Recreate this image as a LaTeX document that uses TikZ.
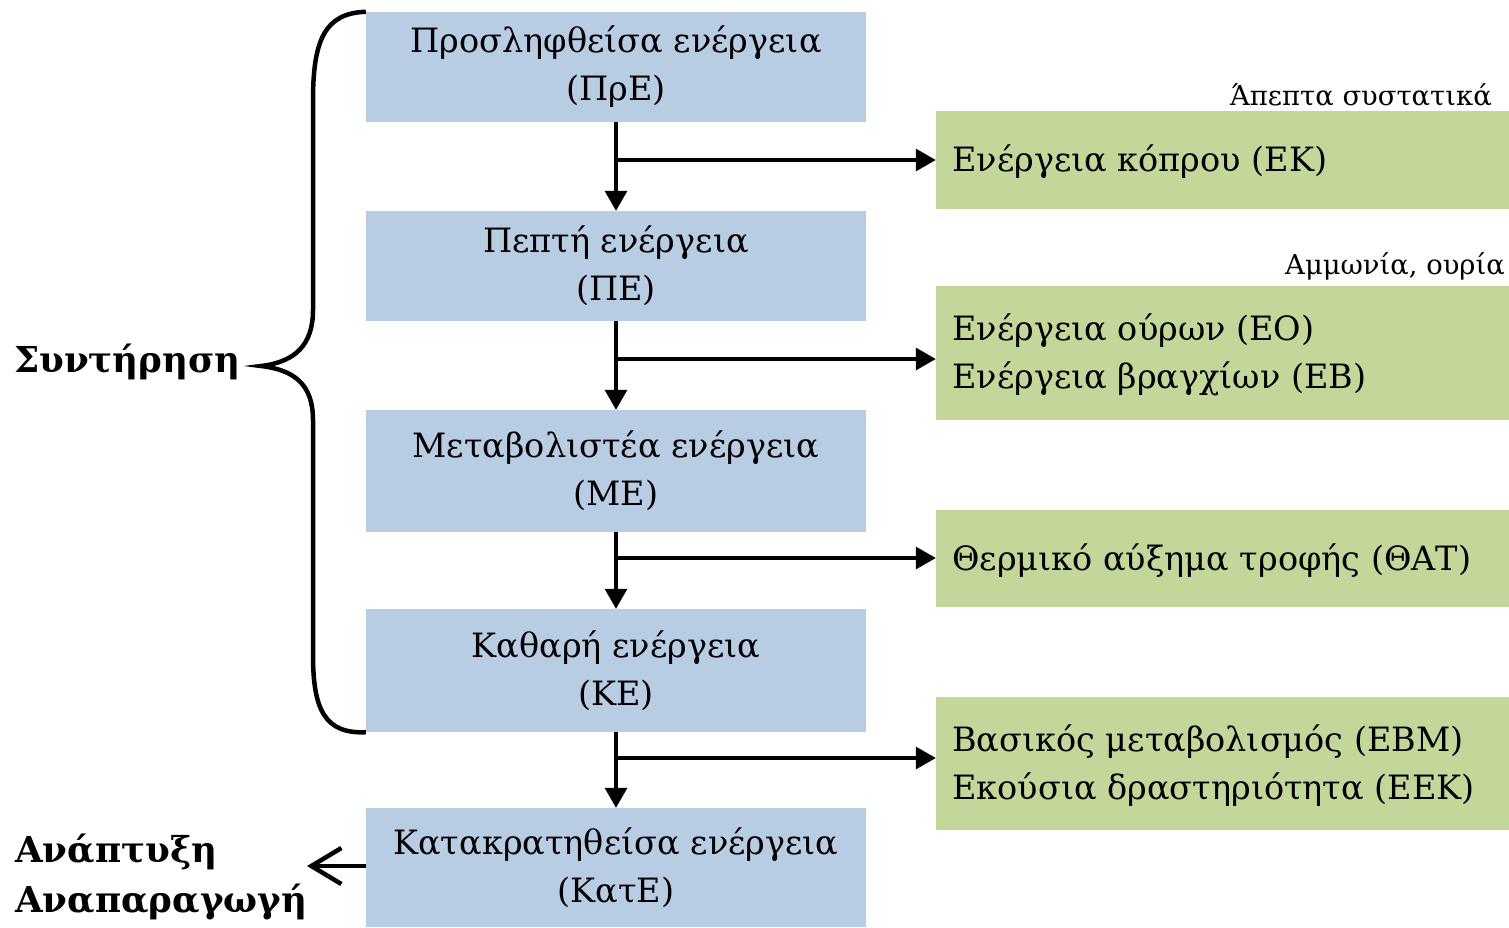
\documentclass[tikz,border=0pt]{standalone}
\usepackage{fontspec}
\setmainfont{DejaVu Serif}
\usetikzlibrary{arrows.meta,calc}
\definecolor{boxblue}{HTML}{B8CCE4}
\definecolor{boxgreen}{HTML}{C4D79B}
\tikzset{
  bluebox/.style={fill=boxblue, draw=none, minimum width=500pt, align=center, inner sep=0pt, font=\fontsize{33.5}{48}\selectfont},
  greenbox/.style={fill=boxgreen, draw=none, minimum width=573pt, inner sep=0pt},
  gtext/.style={anchor=west, align=left, inner sep=0pt, font=\fontsize{33.5}{48}\selectfont},
  flow/.style={line width=3.2pt, -{Triangle[length=20pt,width=22pt]}},
  smalllab/.style={inner sep=0pt, font=\fontsize{27.4}{30}\selectfont},
  biglab/.style={inner sep=0pt, align=left, font=\bfseries\fontsize{35.7}{50}\selectfont},
}
\begin{document}
\begin{tikzpicture}[x=1pt,y=-1pt]
\useasboundingbox (0,0) rectangle (1509,927);
% blue boxes
\node[bluebox, minimum height=110pt] (b1) at (616,67) {Προσληφθείσα ενέργεια\\(ΠρΕ)};
\node[bluebox, minimum height=110pt] (b2) at (616,266) {Πεπτή ενέργεια\\(ΠΕ)};
\node[bluebox, minimum height=122pt] (b3) at (616,471) {Μεταβολιστέα ενέργεια\\(ΜΕ)};
\node[bluebox, minimum height=123pt] (b4) at (616,670.5) {Καθαρή ενέργεια\\(ΚΕ)};
\node[bluebox, minimum height=119pt] (b5) at (616,867.5) {Κατακρατηθείσα ενέργεια\\(ΚατΕ)};
% green boxes
\node[greenbox, minimum height=98pt] (g1) at (1222.5,160) {};
\node[greenbox, minimum height=134pt] (g2) at (1222.5,353) {};
\node[greenbox, minimum height=97pt] (g3) at (1222.5,558.5) {};
\node[greenbox, minimum height=133pt] (g4) at (1222.5,763.5) {};
\node[gtext] (t1) at (952,162) {Ενέργεια κόπρου (ΕΚ)};
\node[gtext] (t2) at (952,355) {Ενέργεια ούρων (ΕΟ)\\Ενέργεια βραγχίων (ΕΒ)};
\node[gtext] (t3) at (952,561) {Θερμικό αύξημα τροφής (ΘΑΤ)};
\node[gtext] (t4) at (952,766) {Βασικός μεταβολισμός (ΕΒΜ)\\Εκούσια δραστηριότητα (ΕΕΚ)};
% labels above green boxes
\node[smalllab, anchor=east] (l1) at (1492,95) {Άπεπτα συστατικά};
\node[smalllab, anchor=east] (l2) at (1505,266) {Αμμωνία, ουρία};
% vertical arrows
\draw[flow] (b1.south) -- (b2.north);
\draw[flow] (b2.south) -- (b3.north);
\draw[flow] (b3.south) -- (b4.north);
\draw[flow] (b4.south) -- (b5.north);
% horizontal arrows
\coordinate (h1) at (617,160);
\coordinate (h2) at (617,359);
\coordinate (h3) at (617,558);
\coordinate (h4) at (617,758);
\draw[flow] (h1) -- (h1 -| g1.west);
\draw[flow] (h2) -- (h2 -| g2.west);
\draw[flow] (h3) -- (h3 -| g3.west);
\draw[flow] (h4) -- (h4 -| g4.west);
% brace
\coordinate (tip) at (261,366);
\draw[line width=4.5pt] (b1.north west) .. controls (325,13) and (313,40) .. (313,100)
  -- (313,310) .. controls (313,345) and (295,362) .. (tip)
  .. controls (295,370) and (313,385) .. (313,420)
  -- (313,655) .. controls (313,710) and (325,734) .. (b4.south west);
\node[biglab, anchor=east] (maint) at (241,362) {Συντήρηση};
% growth
\node[biglab, anchor=west] (grow) at (15,877) {Ανάπτυξη\\Αναπαραγωγή};
\coordinate (growend) at (307,866);
\draw[line width=4.5pt, -{Straight Barb[length=30pt,width=36pt,line width=4.5pt]}] (b5.west |- growend) -- (growend);
\end{tikzpicture}
\end{document}
